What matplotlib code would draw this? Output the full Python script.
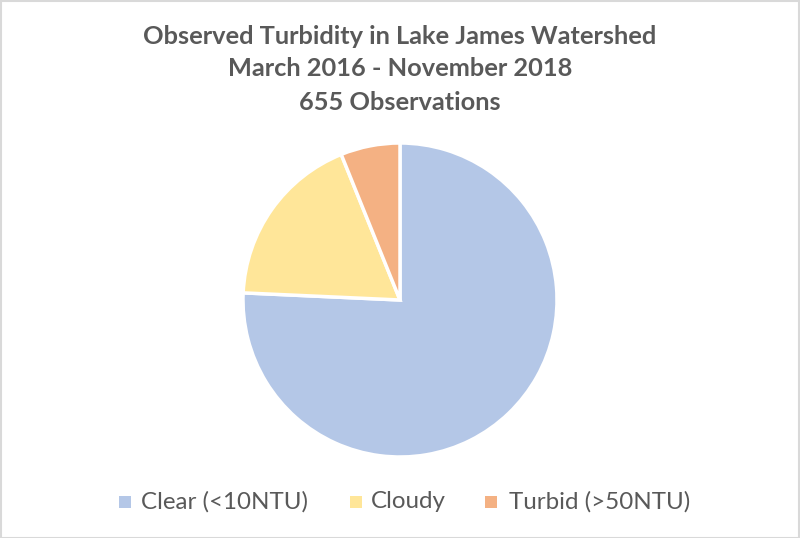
import matplotlib
matplotlib.use("Agg")
import matplotlib.pyplot as plt
from matplotlib.patches import Rectangle

categories = ["Clear (<10NTU)", "Cloudy", "Turbid (>50NTU)"]
counts = [496, 119, 40]
colors = ["#B4C7E7", "#FFE699", "#F4B183"]
title_lines = ["Observed Turbidity in Lake James Watershed",
               "March 2016 - November 2018",
               "655 Observations"]

W, H = 800, 538
fig = plt.figure(figsize=(W/100, H/100), dpi=100)
fig.patch.set_facecolor("white")

cx, cy, r = 400, 300, 157
ax = fig.add_axes([(cx - r)/W, (H - cy - r)/H, 2*r/W, 2*r/H])
ax.pie(counts, colors=colors, startangle=90, counterclock=False,
       wedgeprops=dict(edgecolor="white", linewidth=2.5), radius=1.0)
ax.set_xlim(-1, 1); ax.set_ylim(-1, 1)
ax.set_aspect("equal")
ax.axis("off")

font = "Lato"
tc = "#595959"
for line, y in zip(title_lines, [36, 69, 102]):
    fig.text(0.5, 1 - y/H, line, ha="center", va="center", fontsize=18.3,
             fontweight="bold", color=tc, family=font)

# legend
leg_items = [(119, 141, categories[0]), (350, 371, categories[1]),
             (485, 509, categories[2])]
ly = 502
for (xm, xt, lab), col in zip(leg_items, colors):
    fig.patches.append(Rectangle((xm/W, 1 - (ly + 6)/H), 12/W, 12/H,
                                 transform=fig.transFigure, facecolor=col,
                                 edgecolor="none"))
    fig.text(xt/W, 1 - ly/H, lab, ha="left", va="center", fontsize=17.4,
             color=tc, family=font)

# border
fig.patches.append(Rectangle((0.5/W, 0.5/H), (W - 1.5)/W, (H - 1.5)/H,
                             transform=fig.transFigure, fill=False,
                             edgecolor="#D9D9D9", linewidth=1.5))

fig.savefig("out.png", dpi=100, facecolor="white")
